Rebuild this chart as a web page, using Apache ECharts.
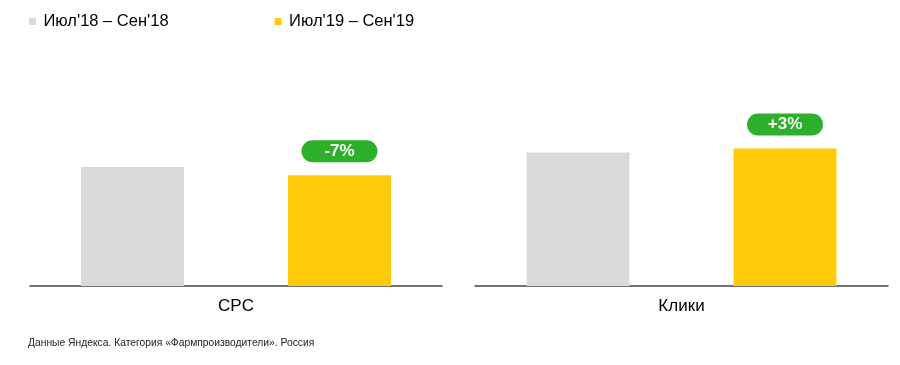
<!DOCTYPE html>
<html>
<head>
<meta charset="utf-8">
<script src="https://cdn.jsdelivr.net/npm/echarts@6/dist/echarts.min.js"></script>
<style>html,body{margin:0;padding:0;background:#fff}#c{width:900px;height:365px}</style>
</head>
<body>
<div id="c"></div>
<script>
var seriesNames = ["Июл'18 – Сен'18", "Июл'19 – Сен'19"];
var panelCategories = ["CPC", "Клики"];
var values2018 = [100, 100];
var values2019 = [93, 103];
var changeLabels = ["-7%", "+3%"];
var footnote = "Данные Яндекса. Категория «Фармпроизводители». Россия";

var FONT = "'Liberation Sans', Arial, Helvetica, sans-serif";
var GRAY = '#d9d9d9', YELLOW = '#fdcb0a', GREEN = '#2cb02c';
var yMax = [206.7, 184.3];

var grids = [
  {left: 30, right: 458, top: 40, bottom: 79},
  {left: 475, right: 12, top: 40, bottom: 79}
];
var xAxes = [], yAxes = [], series = [];
for (var i = 0; i < 2; i++) {
  xAxes.push({
    type: 'category', gridIndex: i, data: [panelCategories[i]],
    axisLine: {lineStyle: {color: '#444', width: 1.5}},
    axisTick: {show: false},
    axisLabel: {color: '#000', fontSize: 17, fontFamily: FONT, margin: 12}
  });
  yAxes.push({type: 'value', gridIndex: i, min: 0, max: yMax[i], show: false, splitLine: {show: false}});
  series.push({
    name: seriesNames[0], type: 'bar', xAxisIndex: i, yAxisIndex: i,
    data: [values2018[i]], barWidth: 103, barGap: '101%',
    itemStyle: {color: GRAY}, silent: true
  });
  series.push({
    name: seriesNames[1], type: 'bar', xAxisIndex: i, yAxisIndex: i,
    data: [values2019[i]], barWidth: 103, barGap: '101%',
    itemStyle: {color: YELLOW}, silent: true,
    label: {
      show: true, position: 'top', distance: 13,
      formatter: (function(t){ return function(){ return t; }; })(changeLabels[i]),
      backgroundColor: GREEN, color: '#fff', borderRadius: 12,
      width: 76, height: 22, lineHeight: 22, align: 'center',
      fontSize: 17, fontFamily: FONT, fontWeight: 'bold'
    }
  });
}

var chart = echarts.init(document.getElementById('c'), null, {renderer: 'canvas'});
chart.setOption({
  animation: false,
  backgroundColor: '#fff',
  legend: {
    data: seriesNames.map(function(n, k){ return {name: n, itemStyle: {color: k ? YELLOW : GRAY}}; }),
    left: 24, top: 8,
    icon: 'path://M0,0h1v1h-1z',
    itemWidth: 12, itemHeight: 7, itemGap: 106,
    selectedMode: false,
    textStyle: {color: '#000', fontSize: 16.5, fontFamily: FONT}
  },
  grid: grids,
  xAxis: xAxes,
  yAxis: yAxes,
  series: series,
  graphic: [{
    type: 'text', left: 28, top: 338,
    style: {text: footnote, fill: '#222', font: '10.3px ' + FONT}
  }]
});
</script>
</body>
</html>
